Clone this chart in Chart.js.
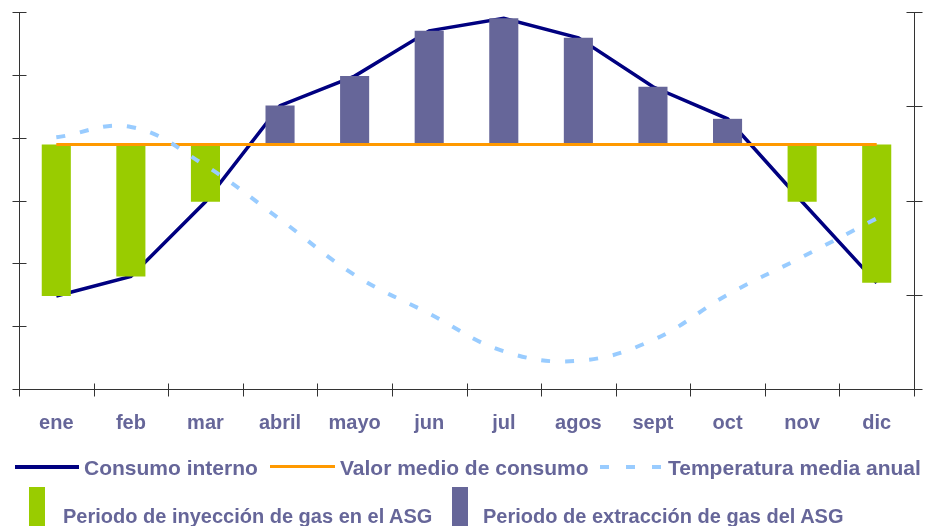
<!DOCTYPE html>
<html lang="es">
<head>
<meta charset="utf-8">
<title>Consumo interno de gas y almacenamiento</title>
<script src="https://cdn.jsdelivr.net/npm/chart.js@4.4.1/dist/chart.umd.min.js"></script>
<style>
  body { margin: 0; background: #fff; }
  #wrap { position: relative; width: 925px; height: 526px; overflow: hidden;
          font-family: "Liberation Sans", Arial, sans-serif; font-weight: bold; color: #666699; }
  #wrap canvas { position: absolute; left: 0; top: 0; }
  .leg { position: absolute; white-space: nowrap; line-height: 1; }
  .row1 { font-size: 21px; top: 457px; }
  .row2 { font-size: 20px; top: 506px; }
  .mark { position: absolute; }
</style>
</head>
<body>
<div id="wrap">
  <canvas id="grafico" width="925" height="526"></canvas>

  <!-- leyenda -->
  <div class="mark" style="left:15px; top:465px; width:64px; height:4px; background:#000080;"></div>
  <div class="leg row1" style="left:84px;">Consumo interno</div>
  <div class="mark" style="left:270px; top:465px; width:65px; height:3px; background:#ff9900;"></div>
  <div class="leg row1" style="left:340px;">Valor medio de consumo</div>
  <div class="mark" style="left:600px; top:465px; width:64px; height:4px;
       background: repeating-linear-gradient(to right, #99ccff 0 9px, transparent 9px 26px);"></div>
  <div class="leg row1" style="left:668px;">Temperatura media anual</div>

  <div class="mark" style="left:29px; top:487px; width:16px; height:39px; background:#99cc00;"></div>
  <div class="leg row2" style="left:63px;">Periodo de inyección de gas en el ASG</div>
  <div class="mark" style="left:452px; top:487px; width:16px; height:39px; background:#666699;"></div>
  <div class="leg row2" style="left:483px;">Periodo de extracción de gas del ASG</div>
</div>

<script>
// Datos
const meses = ['ene', 'feb', 'mar', 'abril', 'mayo', 'jun', 'jul', 'agos', 'sept', 'oct', 'nov', 'dic'];
const consumo = [14.8, 17.9, 29.8, 45.1, 49.8, 57.0, 59.0, 55.9, 48.1, 43.0, 29.8, 16.9];
const valorMedio = [38.9, 38.9, 38.9, 38.9, 38.9, 38.9, 38.9, 38.9, 38.9, 38.9, 38.9, 38.9];
const temperatura = [26.7, 27.8, 23.7, 18.0, 12.1, 8.0, 4.0, 3.0, 5.2, 10.0, 14.0, 18.1];

// Barras flotantes entre el valor medio y el consumo
const inyeccion = consumo.map((v, i) => v < valorMedio[i] ? [valorMedio[i], v] : null);
const extraccion = consumo.map((v, i) => v >= valorMedio[i] ? [valorMedio[i], v] : null);

const colorTexto = '#666699';
const colorEje = '#333333';

// Ejes con marcas que cruzan la línea, como en el original
const ejesPlugin = {
  id: 'ejes',
  beforeDatasetsDraw(chart) {
    const { ctx, chartArea: a, scales } = chart;
    const L = a.left + 0.5, R = a.right + 0.5, B = a.bottom + 0.5, T = a.top;
    ctx.save();
    ctx.strokeStyle = colorEje;
    ctx.lineWidth = 1;
    ctx.beginPath();
    ctx.moveTo(L, T); ctx.lineTo(L, B);
    ctx.moveTo(R, T); ctx.lineTo(R, B);
    ctx.moveTo(L, B); ctx.lineTo(R + 7, B);
    scales.y.ticks.forEach(t => {
      const py = Math.round(scales.y.getPixelForValue(t.value)) + 0.5;
      ctx.moveTo(L - 7, py); ctx.lineTo(L + 7, py);
    });
    scales.y1.ticks.forEach(t => {
      const py = Math.round(scales.y1.getPixelForValue(t.value)) + 0.5;
      ctx.moveTo(R - 8, py); ctx.lineTo(R + 8, py);
    });
    for (let i = 0; i <= meses.length; i++) {
      const px = Math.round(scales.x.getPixelForValue(i - 0.5)) + 0.5;
      ctx.moveTo(px, B - 6); ctx.lineTo(px, B + 7);
    }
    ctx.stroke();
    ctx.restore();
  }
};

const ctx = document.getElementById('grafico').getContext('2d');
new Chart(ctx, {
  type: 'bar',
  data: {
    labels: meses,
    datasets: [
      {
        type: 'line',
        label: 'Temperatura media anual',
        data: temperatura,
        yAxisID: 'y1',
        borderColor: '#99ccff',
        borderWidth: 4,
        borderDash: [9, 15],
        tension: 0.4,
        pointRadius: 0,
        order: 0
      },
      {
        type: 'line',
        label: 'Valor medio de consumo',
        data: valorMedio,
        yAxisID: 'y',
        borderColor: '#ff9900',
        borderWidth: 3,
        pointRadius: 0,
        order: 1
      },
      {
        label: 'Periodo de inyección de gas en el ASG',
        data: inyeccion,
        yAxisID: 'y',
        backgroundColor: '#99cc00',
        grouped: false,
        barPercentage: 0.39,
        categoryPercentage: 1,
        order: 2
      },
      {
        label: 'Periodo de extracción de gas del ASG',
        data: extraccion,
        yAxisID: 'y',
        backgroundColor: '#666699',
        grouped: false,
        barPercentage: 0.39,
        categoryPercentage: 1,
        order: 2
      },
      {
        type: 'line',
        label: 'Consumo interno',
        data: consumo,
        yAxisID: 'y',
        borderColor: '#000080',
        borderWidth: 3.5,
        pointRadius: 0,
        order: 3
      }
    ]
  },
  options: {
    responsive: false,
    animation: false,
    devicePixelRatio: 1,
    layout: { padding: { top: 12 } },
    plugins: {
      legend: { display: false },
      tooltip: { enabled: false }
    },
    scales: {
      x: {
        offset: true,
        grid: { display: false, drawTicks: false },
        border: { display: false },
        ticks: {
          color: colorTexto,
          font: { family: '"Liberation Sans", Arial, sans-serif', size: 20, weight: 'bold' },
          padding: 22,
          maxRotation: 0,
          autoSkip: false
        },
        afterFit(scale) { scale.height = 137; }
      },
      y: {
        position: 'left',
        min: 0,
        max: 60,
        ticks: { display: false, stepSize: 10 },
        grid: { display: false },
        border: { display: false },
        afterFit(scale) { scale.width = 19; }
      },
      y1: {
        position: 'right',
        min: 0,
        max: 40,
        ticks: { display: false, stepSize: 10 },
        grid: { display: false },
        border: { display: false },
        afterFit(scale) { scale.width = 11; }
      }
    }
  },
  plugins: [ejesPlugin]
});
</script>
</body>
</html>
